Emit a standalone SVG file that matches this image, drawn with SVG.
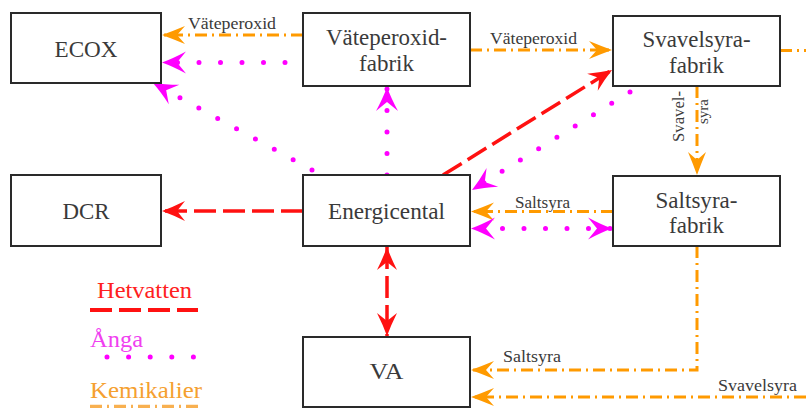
<svg xmlns="http://www.w3.org/2000/svg" width="806" height="408" viewBox="0 0 806 408">
<style>
text{font-family:'Liberation Serif','Times New Roman',serif}
.box{fill:#fff;stroke:#2a2a2a;stroke-width:2}
.nt{font-size:23px;fill:#3a3a3a;text-anchor:middle}
.lb{font-size:16px;fill:#3a3a3a}
.lg{font-size:24px}
.red{fill:none;stroke:#ff1111;stroke-width:3.5;stroke-dasharray:22 7}
.mag{fill:none;stroke:#ff00ff;stroke-width:5;stroke-linecap:round;stroke-dasharray:0 21.5}
.org{fill:none;stroke:#ff9a00;stroke-width:3;stroke-dasharray:12 5 2 5}
</style>
<defs>
<marker id="aR" markerUnits="userSpaceOnUse" markerWidth="26" markerHeight="24" refX="24" refY="12" orient="auto-start-reverse" overflow="visible"><path d="M24,12 Q13,8 1,2 L9,12 L1,22 Q13,16 24,12Z" fill="#ff1111"/></marker>
<marker id="aM" markerUnits="userSpaceOnUse" markerWidth="26" markerHeight="24" refX="24" refY="12" orient="auto-start-reverse" overflow="visible"><path d="M24,12 Q13,8 0,1 L9,12 L0,23 Q13,16 24,12Z" fill="#ff00ff"/></marker>
<marker id="aO" markerUnits="userSpaceOnUse" markerWidth="26" markerHeight="24" refX="24" refY="12" orient="auto-start-reverse" overflow="visible"><path d="M24,12 Q13,8 1,3 L9,12 L1,21 Q13,16 24,12Z" fill="#ff9a00"/></marker>
</defs>

<g id="connectors">
<path class="org" d="M303,35 L162,35" marker-end="url(#aO)"/>
<path class="mag" d="M303,62.5 L162,62.5" style="stroke-dashoffset:3.5" marker-end="url(#aM)"/>
<path class="mag" d="M312,170 L153,83" marker-end="url(#aM)"/>
<path class="mag" d="M387,175 L387,87" marker-end="url(#aM)"/>
<path class="red" d="M303,211 L162,211" marker-end="url(#aR)"/>
<path class="red" d="M443,175 L612,70" marker-end="url(#aR)"/>
<path class="mag" d="M630,92 L472,190" marker-end="url(#aM)"/>
<path class="org" d="M470,50 L612,50" marker-end="url(#aO)"/>
<path class="org" d="M780,50.5 L806,50.5"/>
<path class="org" d="M697,86 L697,175" marker-end="url(#aO)"/>
<path class="org" d="M613,211.5 L471,211.5" marker-end="url(#aO)"/>
<path class="mag" d="M471,228.5 L612,228.5" style="stroke-dashoffset:-10" marker-start="url(#aM)" marker-end="url(#aM)"/>
<path class="red" d="M387,247 L387,336" marker-start="url(#aR)" marker-end="url(#aR)"/>
<path class="org" d="M697,246 L697,370 L471,370" marker-end="url(#aO)"/>
<path class="org" d="M806,397 L471,397" marker-end="url(#aO)"/>
<text class="lb" x="188" y="29" textLength="88" lengthAdjust="spacingAndGlyphs">Väteperoxid</text>
<text class="lb" x="490" y="43.5" textLength="87" lengthAdjust="spacingAndGlyphs">Väteperoxid</text>
<text class="lb" x="515" y="208" textLength="55" lengthAdjust="spacingAndGlyphs">Saltsyra</text>
<text class="lb" x="503" y="362" textLength="58" lengthAdjust="spacingAndGlyphs">Saltsyra</text>
<text class="lb" x="718" y="390.5" textLength="79" lengthAdjust="spacingAndGlyphs">Svavelsyra</text>
<text class="lb" transform="translate(684,142) rotate(-90)" textLength="51" lengthAdjust="spacingAndGlyphs">Svavel-</text>
<text class="lb" transform="translate(708,111.5) rotate(-90)" text-anchor="middle" style="font-size:15px">syra</text>
</g>

<g id="ecox"><rect class="box" x="11" y="13" width="150" height="70"/><text class="nt" x="86" y="56.5" textLength="63" lengthAdjust="spacingAndGlyphs">ECOX</text></g>
<g id="vateperoxidfabrik"><rect class="box" x="303" y="13" width="167" height="73"/><text class="nt" x="386.5" y="45" textLength="121" lengthAdjust="spacingAndGlyphs">Väteperoxid-</text><text class="nt" x="386.5" y="71" textLength="55" lengthAdjust="spacingAndGlyphs">fabrik</text></g>
<g id="svavelsyrafabrik"><rect class="box" x="613" y="16" width="167" height="70"/><text class="nt" x="696.5" y="47" textLength="108" lengthAdjust="spacingAndGlyphs">Svavelsyra-</text><text class="nt" x="696.5" y="72.5" textLength="55" lengthAdjust="spacingAndGlyphs">fabrik</text></g>
<g id="dcr"><rect class="box" x="11" y="175" width="150" height="71"/><text class="nt" x="86" y="219" textLength="47" lengthAdjust="spacingAndGlyphs">DCR</text></g>
<g id="energicental"><rect class="box" x="303" y="175" width="167" height="71"/><text class="nt" x="386.5" y="219" textLength="117" lengthAdjust="spacingAndGlyphs">Energicental</text></g>
<g id="saltsyrafabrik"><rect class="box" x="613" y="176" width="167" height="70"/><text class="nt" x="696.5" y="207.5" textLength="82" lengthAdjust="spacingAndGlyphs">Saltsyra-</text><text class="nt" x="696.5" y="232.5" textLength="55" lengthAdjust="spacingAndGlyphs">fabrik</text></g>
<g id="va"><rect class="box" x="303" y="337" width="167" height="70"/><text class="nt" x="386.5" y="379" textLength="34" lengthAdjust="spacingAndGlyphs">VA</text></g>

<g id="legend">
<text class="lg" x="97" y="298" fill="#ff2020" textLength="95" lengthAdjust="spacingAndGlyphs">Hetvatten</text>
<path class="red" d="M90,310 L198,310" style="stroke-width:4"/>
<text class="lg" x="90" y="347" fill="#f040f0" textLength="53" lengthAdjust="spacingAndGlyphs">Ånga</text>
<path class="mag" d="M107,357 L196,357" style="stroke-dasharray:0 21.6"/>
<text class="lg" x="90" y="398" fill="#f5a030" textLength="112" lengthAdjust="spacingAndGlyphs">Kemikalier</text>
<path class="org" d="M90,406.5 L202,406.5" style="stroke-width:3.5;stroke:#f8b050"/>
</g>
</svg>
